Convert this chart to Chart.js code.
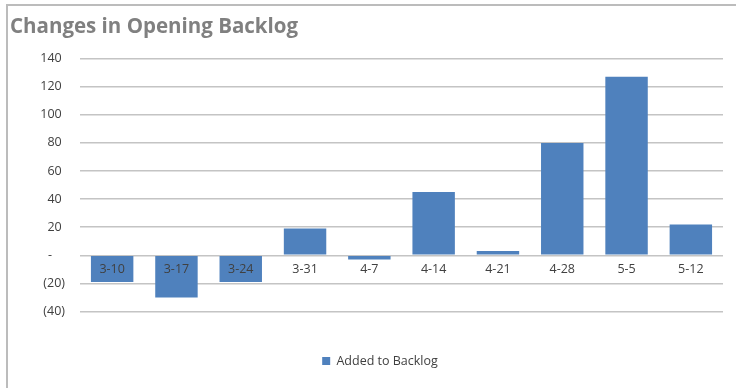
<!DOCTYPE html>
<html>
<head>
<meta charset="utf-8">
<script src="https://cdn.jsdelivr.net/npm/chart.js@4.4.1/dist/chart.umd.min.js"></script>
<style>
  html, body { margin: 0; padding: 0; background: #fff; }
  canvas { display: block; }
</style>
</head>
<body>
<canvas id="backlog" width="736" height="388"></canvas>
<script>
// weekly change in opening backlog
const weeks = ['3-10', '3-17', '3-24', '3-31', '4-7', '4-14', '4-21', '4-28', '5-5', '5-12'];
const addedToBacklog = [-19, -30, -19, 19, -3, 45, 3, 80, 127, 22];
const yTicks = [-40, -20, 0, 20, 40, 60, 80, 100, 120, 140];

const textColor = '#404040';
const fontFamily = '"Open Sans", Lato, sans-serif';

// accounting style: negatives in brackets, zero as a dash
function accounting(v) {
    if (v === 0) return '-    ';
    if (v < 0) return '(' + (-v) + ')';
    return v + ' ';
}

// white background + grey frame on the top and left edges
const frame = {
    id: 'frame',
    beforeDraw(chart) {
        const ctx = chart.ctx;
        ctx.save();
        ctx.fillStyle = '#fff';
        ctx.fillRect(0, 0, chart.width, chart.height);
        ctx.strokeStyle = '#bcbcbc';
        ctx.lineWidth = 2;
        ctx.beginPath();
        ctx.moveTo(7, chart.height);
        ctx.lineTo(7, 5);
        ctx.lineTo(chart.width, 5);
        ctx.stroke();
        ctx.restore();
    },
    afterLayout(chart) {
        // move the legend down into the empty strip under the plot
        const lg = chart.legend;
        const dx = 380 - (lg.left + lg.right) / 2;
        const dy = 361 - (lg.top + lg.height / 2);
        lg.left += dx; lg.right += dx;
        lg.top += dy; lg.bottom += dy;
    }
};

new Chart(document.getElementById('backlog'), {
    type: 'bar',
    data: {
        labels: weeks,
        datasets: [{
            label: 'Added to Backlog',
            data: addedToBacklog,
            backgroundColor: '#4f81bd',
            borderWidth: 0,
            barPercentage: 0.66,
            categoryPercentage: 1
        }]
    },
    options: {
        responsive: false,
        animation: false,
        layout: { padding: { left: 10, right: 13, top: 0, bottom: 44 } },
        scales: {
            x: {
                position: { y: 0 },
                grid: { display: false, drawTicks: false },
                border: { display: false },
                ticks: {
                    z: 1,   // labels sit on top of the negative bars
                    color: textColor,
                    font: { family: fontFamily, size: 12.5 },
                    padding: 7,
                    maxRotation: 0,
                    autoSkip: false
                }
            },
            y: {
                min: -40,
                max: 140,
                afterBuildTicks(scale) {
                    scale.ticks = yTicks.map(v => ({ value: v }));
                },
                afterFit(scale) { scale.width = 70; },
                grid: { color: '#c4c4c4', lineWidth: 1.5, drawTicks: false },
                border: { display: false },
                ticks: {
                    color: textColor,
                    font: { family: fontFamily, size: 12.5 },
                    padding: 15,
                    callback: v => accounting(v)
                }
            }
        },
        plugins: {
            title: {
                display: true,
                text: 'Changes in Opening Backlog',
                align: 'start',
                color: '#808080',
                font: { family: fontFamily, size: 20.5, weight: 'bold', lineHeight: 1.2 },
                padding: { top: 15, bottom: 19 }
            },
            legend: {
                position: 'bottom',
                labels: {
                    color: textColor,
                    font: { family: fontFamily, size: 12.5 },
                    boxWidth: 8,
                    boxHeight: 8,
                    padding: 10
                }
            },
            tooltip: { enabled: false }
        }
    },
    plugins: [frame]
});
</script>
</body>
</html>
